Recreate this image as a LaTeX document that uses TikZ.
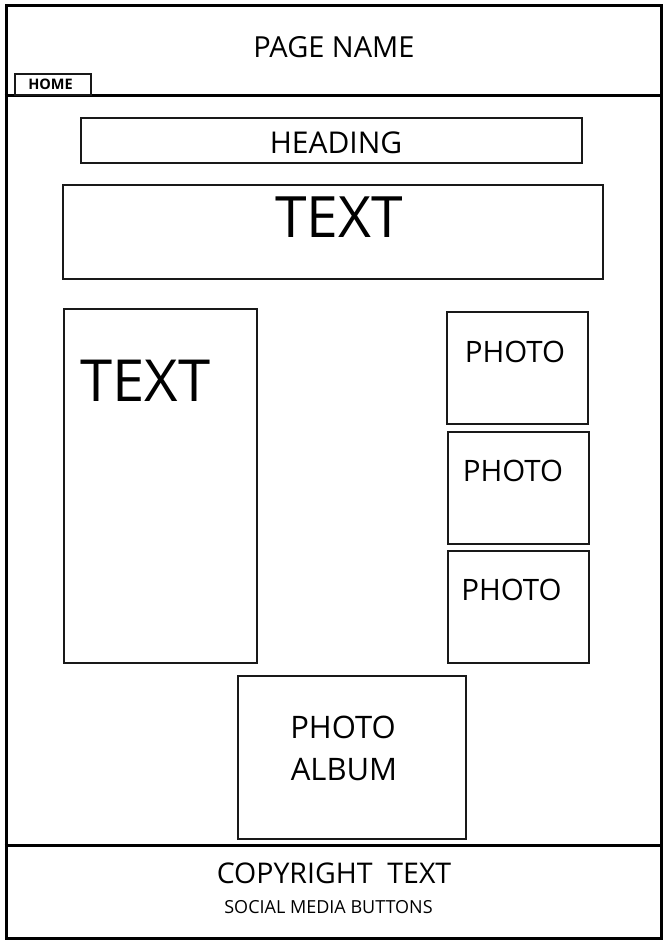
\documentclass[tikz,border=0pt]{standalone}
\usepackage{fontspec}
\setmainfont{Open Sans}
\newcommand{\fs}[1]{\fontsize{#1}{#1}\selectfont}
\begin{document}
\begin{tikzpicture}[x=1pt,y=-1pt,
  box/.style={draw=black!90, line width=1.5pt, inner sep=0pt, anchor=north west},
  frame/.style={draw=black, line width=3pt},
  lbl/.style={inner sep=0pt, text=black}]
\useasboundingbox (0,0) rectangle (663,940);
% outer frame and separators
\node[frame, inner sep=0pt, anchor=north west, minimum width=655pt, minimum height=933pt] (page) at (4.5,4) {};
\coordinate (hl) at (4.5,95.5);
\coordinate (hr) at (659.5,95.5);
\draw[frame] (hl) -- (hr);
\coordinate (fl) at (4.5,845.5);
\coordinate (fr) at (659.5,845.5);
\draw[frame] (fl) -- (fr);
% header
\node[lbl, font=\fs{29}] (pagename) at (334,47) {PAGE NAME};
\node[box, minimum width=76pt, minimum height=21pt] (homebox) at (14,73) {};
\node[lbl, font=\bfseries\fs{14.5}] (home) at (50.5,84) {HOME};
% heading
\node[box, minimum width=501pt, minimum height=45pt] (headbox) at (80,117) {};
\node[lbl, font=\fs{30}] (heading) at (336,142.5) {HEADING};
% top text
\node[box, minimum width=540pt, minimum height=94pt] (textbox) at (62,184) {};
\node[lbl, font=\fs{57}] (text1) at (339,217.5) {TEXT};
% left text
\node[box, minimum width=193pt, minimum height=354pt] (ltextbox) at (63,308) {};
\node[lbl, font=\fs{58}] (text2) at (145.5,381) {TEXT};
% photos
\node[box, minimum width=141pt, minimum height=112pt] (ph1) at (446,311) {};
\node[lbl, font=\fs{29.5}] (pt1) at (515,352) {PHOTO};
\node[box, minimum width=141pt, minimum height=112pt] (ph2) at (447,431) {};
\node[lbl, font=\fs{29.5}] (pt2) at (513,471) {PHOTO};
\node[box, minimum width=141pt, minimum height=112pt] (ph3) at (447,550) {};
\node[lbl, font=\fs{29.5}] (pt3) at (511.5,590) {PHOTO};
% album
\node[box, minimum width=228pt, minimum height=163pt] (album) at (237,675) {};
\node[lbl, font=\fs{31}] (al1) at (343,727) {PHOTO};
\node[lbl, font=\fs{31}] (al2) at (344,769.5) {ALBUM};
% footer
\node[lbl, font=\fs{28.5}] (copy) at (334,873) {COPYRIGHT\ \ TEXT};
\node[lbl, font=\fs{18}] (social) at (328.5,907) {SOCIAL MEDIA BUTTONS};
\end{tikzpicture}
\end{document}
